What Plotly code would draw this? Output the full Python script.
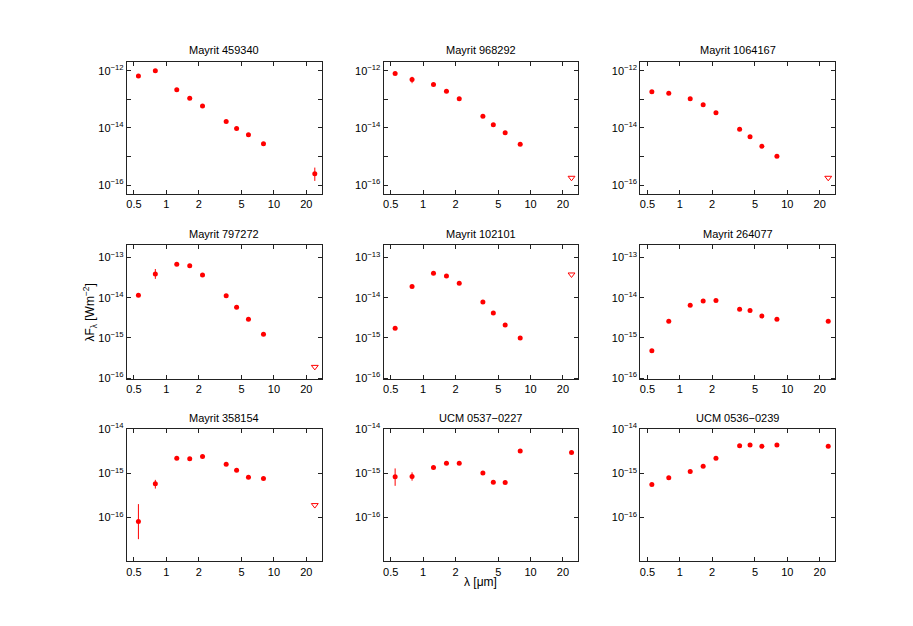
import plotly.graph_objects as go

# wavelengths (micron): optical, JHKs, IRAC, MIPS 24
wavelength = [0.55, 0.79, 1.25, 1.65, 2.17, 3.6, 4.5, 5.8, 8.0, 24.0]

names = ['Mayrit 459340', 'Mayrit 968292', 'Mayrit 1064167',
         'Mayrit 797272', 'Mayrit 102101', 'Mayrit 264077',
         'Mayrit 358154', 'UCM 0537\u22120227', 'UCM 0536\u22120239']

# lambda F_lambda [W m^-2]
flux_459340 = [6.6e-13, 1.0e-12, 2.2e-13, 1.1e-13, 5.9e-14, 1.7e-14, 9.5e-15, 5.8e-15, 2.8e-15, 2.5e-16]
flux_968292 = [8.1e-13, 5.0e-13, 3.3e-13, 1.95e-13, 1.05e-13, 2.6e-14, 1.3e-14, 6.8e-15, 2.7e-15, 1.8e-16]
flux_1064167 = [1.86e-13, 1.66e-13, 1.05e-13, 6.5e-14, 3.4e-14, 9.1e-15, 4.9e-15, 2.3e-15, 1.02e-15, 1.8e-16]
flux_797272 = [1.15e-14, 3.9e-14, 6.8e-14, 6.3e-14, 3.7e-14, 1.12e-14, 5.8e-15, 2.9e-15, 1.23e-15, 1.9e-16]
flux_102101 = [1.74e-15, 1.9e-14, 4.1e-14, 3.5e-14, 2.3e-14, 7.8e-15, 4.2e-15, 2.1e-15, 1.0e-15, 3.8e-14]
flux_264077 = [4.8e-16, 2.6e-15, 6.5e-15, 8.3e-15, 8.5e-15, 5.2e-15, 4.8e-15, 3.5e-15, 2.9e-15, 2.6e-15]
flux_358154 = [8.1e-17, 5.8e-16, 2.2e-15, 2.15e-15, 2.4e-15, 1.6e-15, 1.17e-15, 8.1e-16, 7.6e-16, 1.9e-16]
flux_0537 = [8.3e-16, 8.5e-16, 1.35e-15, 1.7e-15, 1.7e-15, 1.02e-15, 6.3e-16, 6.2e-16, 3.2e-15, 2.95e-15]
flux_0536 = [5.6e-16, 7.9e-16, 1.1e-15, 1.45e-15, 2.2e-15, 4.2e-15, 4.4e-15, 4.1e-15, 4.4e-15, 4.1e-15]

fluxes = [flux_459340, flux_968292, flux_1064167,
          flux_797272, flux_102101, flux_264077,
          flux_358154, flux_0537, flux_0536]

# is the 24 micron point an upper limit?
upper_limit_24 = [False, True, True, True, True, False, True, False, False]

# error bar ends (lower, upper), None = no visible bar
err_lo_459340 = [None] * 9 + [1.4e-16]
err_hi_459340 = [None] * 9 + [4.1e-16]
err_lo_968292 = [None, 3.7e-13] + [None] * 8
err_hi_968292 = [None, 6.2e-13] + [None] * 8
err_lo_797272 = [None, 2.95e-14] + [None] * 8
err_hi_797272 = [None, 5.2e-14] + [None] * 8
err_lo_358154 = [3.2e-17, 4.5e-16] + [None] * 8
err_hi_358154 = [2.0e-16, 7.1e-16] + [None] * 8
err_lo_0537 = [5.2e-16, 6.8e-16] + [None] * 8
err_hi_0537 = [1.29e-15, 1.05e-15] + [None] * 8
err_lo_0536 = [None, 7.1e-16] + [None] * 8
err_hi_0536 = [None, 8.7e-16] + [None] * 8
no_err = [None] * 10

err_lo = [err_lo_459340, err_lo_968292, no_err, err_lo_797272, no_err, no_err,
          err_lo_358154, err_lo_0537, err_lo_0536]
err_hi = [err_hi_459340, err_hi_968292, no_err, err_hi_797272, no_err, no_err,
          err_hi_358154, err_hi_0537, err_hi_0536]

x_ticks = [0.5, 1, 2, 5, 10, 20]
row_y_range = [[-16.32, -11.69], [-16.03, -12.69], [-17.0, -14.0]]
row_y_labelled = [[-12, -14, -16], [-13, -14, -15, -16], [-14, -15, -16]]
row_y_unlabelled = [[-13, -15], [], [-17]]

W, H = 913, 626
col_px = [(118, 313), (375, 570), (632, 827)]
row_px = [(47, 182), (234, 371), (422, 557)]
title_px = [35, 223, 411]

FONT = 'Liberation Sans, Arial, Helvetica, sans-serif'
RED = '#ff0000'
AXIS = '#222222'

fig = go.Figure()
layout = dict(width=W, height=H, margin=dict(l=0, r=0, t=0, b=0),
              paper_bgcolor='white', plot_bgcolor='white',
              showlegend=False, font=dict(family=FONT, size=11, color='black'))
annotations = []

for i in range(9):
    r, c = divmod(i, 3)
    n = '' if i == 0 else str(i + 1)
    xs = 'x' + n
    ys = 'y' + n
    flux = fluxes[i]

    det_x, det_y, e_plus, e_minus = [], [], [], []
    lim_x, lim_y = [], []
    for k, (w, f) in enumerate(zip(wavelength, flux)):
        if k == 9 and upper_limit_24[i]:
            lim_x.append(w)
            lim_y.append(f)
            continue
        det_x.append(w)
        det_y.append(f)
        lo, hi = err_lo[i][k], err_hi[i][k]
        e_plus.append(hi - f if hi is not None else 0)
        e_minus.append(f - lo if lo is not None else 0)

    fig.add_trace(go.Scatter(
        x=det_x, y=det_y, mode='markers', xaxis=xs, yaxis=ys,
        marker=dict(symbol='circle', size=5, color=RED),
        error_y=dict(type='data', symmetric=False, array=e_plus, arrayminus=e_minus,
                     color=RED, thickness=1, width=0)))
    if lim_x:
        fig.add_trace(go.Scatter(
            x=lim_x, y=lim_y, mode='markers', xaxis=xs, yaxis=ys,
            marker=dict(symbol='triangle-down-open', size=6, color=RED,
                        line=dict(width=1, color=RED))))

    x0, x1 = col_px[c]
    y0, y1 = row_px[r]
    axis_common = dict(showline=True, linecolor=AXIS, linewidth=1, mirror='ticks',
                       ticks='inside', ticklen=4, tickcolor=AXIS, showgrid=False,
                       zeroline=False, tickfont=dict(family=FONT, size=11, color='black'))
    layout['xaxis' + n] = dict(axis_common, type='log', anchor=ys,
                               domain=[x0 / W, x1 / W],
                               range=[-0.367, 1.444],
                               tickmode='array', tickvals=x_ticks,
                               ticktext=[str(t) for t in x_ticks])
    labelled = row_y_labelled[r]
    yaxis = dict(axis_common, type='log', anchor=xs,
                 domain=[1 - y1 / H, 1 - y0 / H],
                 range=row_y_range[r],
                 tickmode='array', tickvals=[10.0 ** e for e in labelled],
                 ticktext=['10<sup>\u2212%d</sup>' % -e for e in labelled])
    if row_y_unlabelled[r]:
        yaxis['minor'] = dict(tickmode='array',
                              tickvals=[10.0 ** e for e in row_y_unlabelled[r]],
                              ticks='inside', ticklen=4, tickcolor=AXIS, showgrid=False)
    layout['yaxis' + n] = yaxis
    annotations.append(dict(text=names[i], x=(x0 + x1) / 2 / W, y=1 - title_px[r] / H,
                            xref='paper', yref='paper', xanchor='center', yanchor='middle',
                            showarrow=False, font=dict(family=FONT, size=11, color='black')))

annotations.append(dict(text='\u03bb [\u03bcm]', x=472 / W, y=1 - 578 / H, xref='paper', yref='paper',
                        xanchor='center', yanchor='middle', showarrow=False,
                        font=dict(family=FONT, size=12, color='black')))
annotations.append(dict(text='\u03bbF<sub>\u03bb</sub> [Wm<sup>\u22122</sup>]', x=81 / W, y=1 - 303 / H,
                        xref='paper', yref='paper', xanchor='center', yanchor='middle',
                        textangle=-90, showarrow=False,
                        font=dict(family=FONT, size=12, color='black')))
layout['annotations'] = annotations

fig.update_layout(**layout)
fig.write_html('out.html')
